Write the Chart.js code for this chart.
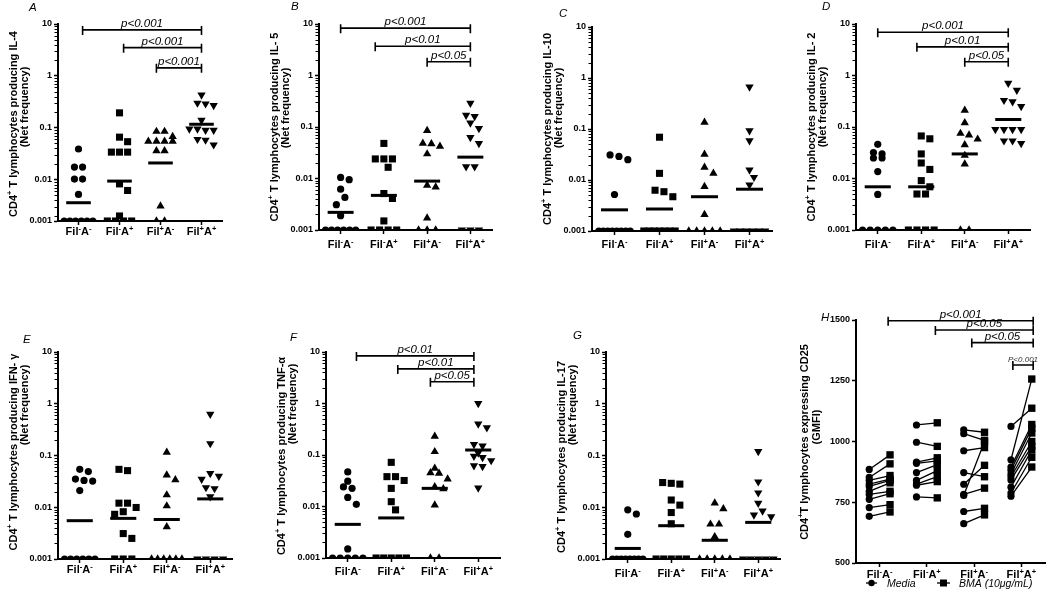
<!DOCTYPE html>
<html>
<head>
<meta charset="utf-8">
<script src="https://cdn.jsdelivr.net/npm/chart.js@4.4.1/dist/chart.umd.min.js"></script>
<style>
  body { margin: 0; background: #fff; }
  #wrap { position: relative; width: 1050px; height: 598px; overflow: hidden; background: #fff; }
  #wrap canvas { position: absolute; left: 0; top: 0; }
</style>
</head>
<body>
<div id="wrap"></div>
<script>
// x groups, left to right: Fil-A-, Fil-A+, Fil+A-, Fil+A+
const groupSigns = [['-', '-'], ['-', '+'], ['+', '-'], ['+', '+']];
const logTicks = [0.001, 0.01, 0.1, 1, 10];
const gmfiTicks = [500, 750, 1000, 1250, 1500];

// net frequencies per group (0.001 = at the detection floor)
const il4 = [
  [0.039, 0.0175, 0.0175, 0.0103, 0.0103, 0.0052, 0.001, 0.001, 0.001, 0.001, 0.001, 0.001],
  [0.194, 0.066, 0.054, 0.034, 0.034, 0.034, 0.0083, 0.0062, 0.002, 0.001, 0.001, 0.001, 0.001],
  [0.085, 0.085, 0.068, 0.055, 0.055, 0.055, 0.055, 0.036, 0.036, 0.0031, 0.001, 0.001],
  [0.43, 0.30, 0.29, 0.27, 0.14, 0.095, 0.095, 0.09, 0.09, 0.06, 0.058, 0.047]
];
const il4Mean = [0.0036, 0.0094, 0.021, 0.117];

const il5 = [
  [0.0105, 0.0095, 0.0062, 0.0043, 0.0031, 0.0019, 0.001, 0.001, 0.001, 0.001, 0.001, 0.001],
  [0.048, 0.024, 0.024, 0.024, 0.0165, 0.0051, 0.0041, 0.0015, 0.001, 0.001, 0.001, 0.001],
  [0.085, 0.048, 0.047, 0.042, 0.030, 0.0074, 0.0068, 0.0017, 0.001, 0.001, 0.001],
  [0.29, 0.17, 0.16, 0.12, 0.094, 0.063, 0.048, 0.017, 0.017, 0.001, 0.001, 0.001]
];
const il5Mean = [0.0022, 0.0047, 0.0089, 0.026];

const il10 = [
  [0.031, 0.029, 0.025, 0.0052, 0.001, 0.001, 0.001, 0.001, 0.001, 0.001, 0.001, 0.001],
  [0.069, 0.0135, 0.0063, 0.0059, 0.0047, 0.001, 0.001, 0.001, 0.001, 0.001, 0.001, 0.001],
  [0.135, 0.032, 0.0177, 0.0135, 0.0074, 0.0021, 0.001, 0.001, 0.001, 0.001, 0.001],
  [0.67, 0.093, 0.059, 0.0158, 0.0113, 0.008, 0.001, 0.001, 0.001, 0.001, 0.001, 0.001]
];
const il10Mean = [0.0026, 0.0027, 0.0047, 0.0066];

const il2 = [
  [0.046, 0.032, 0.030, 0.025, 0.025, 0.0136, 0.0049, 0.001, 0.001, 0.001, 0.001, 0.001],
  [0.067, 0.059, 0.030, 0.020, 0.015, 0.0091, 0.0069, 0.005, 0.005, 0.001, 0.001, 0.001, 0.001],
  [0.21, 0.12, 0.075, 0.07, 0.058, 0.045, 0.028, 0.019, 0.001, 0.001],
  [0.71, 0.52, 0.33, 0.31, 0.25, 0.09, 0.09, 0.09, 0.09, 0.054, 0.054, 0.048]
];
const il2Mean = [0.0069, 0.0069, 0.030, 0.14];

const ifng = [
  [0.054, 0.049, 0.035, 0.033, 0.032, 0.021, 0.001, 0.001, 0.001, 0.001, 0.001, 0.001],
  [0.054, 0.051, 0.012, 0.012, 0.0099, 0.0082, 0.0073, 0.0031, 0.0025, 0.001, 0.001, 0.001],
  [0.115, 0.042, 0.034, 0.0173, 0.0106, 0.0042, 0.001, 0.001, 0.001, 0.001, 0.001, 0.001],
  [0.63, 0.17, 0.045, 0.040, 0.035, 0.024, 0.023, 0.016, 0.001, 0.001, 0.001, 0.001]
];
const ifngMean = [0.0055, 0.0061, 0.0058, 0.0145];

const tnfa = [
  [0.047, 0.031, 0.024, 0.0225, 0.015, 0.011, 0.0015, 0.001, 0.001, 0.001, 0.001, 0.001],
  [0.072, 0.038, 0.038, 0.032, 0.0225, 0.0124, 0.0086, 0.001, 0.001, 0.001, 0.001, 0.001],
  [0.23, 0.116, 0.055, 0.045, 0.044, 0.034, 0.024, 0.022, 0.0107, 0.001, 0.001],
  [1.0, 0.40, 0.34, 0.16, 0.15, 0.11, 0.095, 0.09, 0.078, 0.062, 0.060, 0.023]
];
const tnfaMean = [0.0045, 0.006, 0.0225, 0.125];

const il17 = [
  [0.0089, 0.0074, 0.003, 0.001, 0.001, 0.001, 0.001, 0.001, 0.001, 0.001, 0.001],
  [0.030, 0.029, 0.028, 0.0138, 0.011, 0.0079, 0.0048, 0.001, 0.001, 0.001, 0.001, 0.001],
  [0.012, 0.0093, 0.0047, 0.0047, 0.0027, 0.001, 0.001, 0.001, 0.001, 0.001],
  [0.12, 0.031, 0.019, 0.012, 0.0085, 0.0071, 0.0066, 0.001, 0.001, 0.001, 0.001, 0.001]
];
const il17Mean = [0.0016, 0.0044, 0.0023, 0.0051];

// H: CD25 GMFI, media vs BMA, paired by position
const cd25Media = [
  [885, 852, 840, 825, 815, 795, 782, 762, 728, 692],
  [1068, 997, 915, 910, 872, 840, 825, 820, 772],
  [1048, 1032, 962, 872, 824, 782, 778, 712, 662],
  [1062, 925, 895, 882, 866, 855, 842, 812, 788, 775]
];
const cd25Bma = [
  [945, 908, 860, 845, 840, 830, 795, 785, 740, 710],
  [1077, 980, 933, 920, 905, 880, 855, 835, 768],
  [1038, 1005, 975, 855, 902, 808, 1000, 725, 698],
  [1137, 1257, 1070, 1055, 1035, 1000, 980, 965, 935, 895]
];

// significance brackets: [from group, to group, height, label]
const il4Sig = [[0.1, 3, 7.7, 'p<0.001'], [1.1, 3, 3.5, 'p<0.001'], [1.9, 3, 1.43, 'p<0.001']];
const il5Sig = [[0, 3, 8.3, 'p<0.001'], [0.8, 3, 3.7, 'p<0.01'], [2, 3, 1.85, 'p<0.05']];
const il2Sig = [[0, 3, 6.9, 'p<0.001'], [0.9, 3, 3.6, 'p<0.01'], [2, 3, 1.85, 'p<0.05']];
const tnfaSig = [[0.2, 2.9, 8.4, 'p<0.01'], [1.15, 2.9, 4.7, 'p<0.01'], [1.9, 2.9, 2.65, 'p<0.05']];
const cd25Sig = [[0.18, 3.25, 1497, 'p<0.001'], [1.18, 3.25, 1459, 'p<0.05'], [1.95, 3.25, 1407, 'p<0.05'], [2.82, 3.25, 1315, 'P<0.001']];

const family = "'Liberation Sans', Arial, Helvetica, sans-serif";
const Y_W = 40, X_H = 30;
const markers = ['circle', 'rect', 'triangle', 'triangle'];
const markerR = [3.6, 5, 4.8, 4.8];

function font(size, weight, style) {
  return (style || 'normal') + ' ' + (weight || 'normal') + ' ' + size + 'px ' + family;
}

// text with raised superscript pieces, centred on x
function richText(ctx, parts, x, y, o) {
  let w = 0;
  for (const [t, sup] of parts) {
    ctx.font = font(sup ? o.sup : o.size, o.weight, o.style);
    w += ctx.measureText(t).width;
  }
  let cx = x - w / 2;
  ctx.textAlign = 'left';
  for (const [t, sup] of parts) {
    ctx.font = font(sup ? o.sup : o.size, o.weight, o.style);
    ctx.fillText(t, cx, sup ? y - o.size * 0.38 : y);
    cx += ctx.measureText(t).width;
  }
}

function vText(ctx, parts, cx, cy, o) {
  ctx.save();
  ctx.translate(cx, cy);
  ctx.rotate(-Math.PI / 2);
  ctx.textBaseline = 'middle';
  richText(ctx, parts, 0, 0, o);
  ctx.restore();
}

// beeswarm in rough pixel units: equal values sit in a centred row,
// other points take the nearest free spot beside the column centre
function swarm(vals, d, maxW) {
  const PX_DEC = 51.5, PX_SLOT = 43;
  const order = vals.map((v, i) => i).sort((a, b) => vals[b] - vals[a]);
  const off = vals.map(() => 0);
  const placed = [];
  let i = 0;
  while (i < order.length) {
    let j = i;
    while (j + 1 < order.length &&
      Math.log10(vals[order[i]]) - Math.log10(vals[order[j + 1]]) < 0.03) j++;
    const n = j - i + 1;
    const y = Math.log10(vals[order[i]]) * PX_DEC;
    if (n > 1) {
      const s = Math.min(d, maxW / (n - 1));
      for (let k = 0; k < n; k++) {
        const x = (k - (n - 1) / 2) * s;
        off[order[i + k]] = x / PX_SLOT;
        placed.push([x, y]);
      }
    } else {
      let best = 0;
      for (let t = 0; t < 14; t++) {
        const x = (t % 2 ? 1 : -1) * Math.ceil(t / 2) * d / 2;
        if (placed.every(([px, py]) => Math.hypot(px - x, py - y) >= d)) { best = x; break; }
      }
      off[order[i]] = best / PX_SLOT;
      placed.push([best, y]);
    }
    i = j + 1;
  }
  return off;
}

const panels = [
  { letter: 'A', values: il4, means: il4Mean, sig: il4Sig, box: [58, 24, 222, 221], yMin: 0.0016,
    title: [['CD4'], ['+', 1], [' T lymphocytes producing IL-4']], t1: [14, 124], t2: [25, 107], at: [29, 11], gap: 14 },
  { letter: 'B', values: il5, means: il5Mean, sig: il5Sig, box: [319, 24, 492, 230], yMin: 0.001,
    title: [['CD4'], ['+', 1], [' T lymphocytes producing IL- 5']], t1: [275, 127], t2: [286, 108], at: [291, 10], gap: 18 },
  { letter: 'C', values: il10, means: il10Mean, sig: [], box: [592, 27, 772, 231], yMin: 0.001,
    title: [['CD4'], ['+', 1], [' T lymphocytes producing IL-10']], t1: [548, 129], t2: [559, 108], at: [559, 17], gap: 17 },
  { letter: 'D', values: il2, means: il2Mean, sig: il2Sig, box: [856, 24, 1030, 230], yMin: 0.001,
    title: [['CD4'], ['+', 1], [' T lymphocytes producing IL- 2']], t1: [812, 127], t2: [823, 107], at: [822, 10], gap: 18 },
  { letter: 'E', values: ifng, means: ifngMean, sig: [], box: [58, 352, 232, 559], yMin: 0.001,
    title: [['CD4'], ['+', 1], [' T lymphocytes producing IFN- \u03b3']], t1: [14, 452], t2: [25, 405], at: [23, 343], gap: 14 },
  { letter: 'F', values: tnfa, means: tnfaMean, sig: tnfaSig, box: [326, 352, 500, 558], yMin: 0.001,
    title: [['CD4'], ['+', 1], [' T lymphocytes producing TNF-\u03b1']], t1: [282, 456], t2: [293, 404], at: [290, 341], gap: 17 },
  { letter: 'G', values: il17, means: il17Mean, sig: [], box: [606, 352, 780, 559], yMin: 0.001,
    title: [['CD4'], ['+', 1], [' T lymphocytes producing IL-17']], t1: [562, 457], t2: [573, 405], at: [573, 339], gap: 18 }
];

const panelH = { letter: 'H', sig: cd25Sig, box: [856, 320, 1045, 563],
  title: [['CD4'], ['+', 1], ['T lymphocytes expressing CD25']], sub: '(GMFI)', t1: [805, 442], t2: [817, 427], at: [821, 321], gap: 15 };

function padding(box) {
  const [l, t, r, b] = box;
  return { left: l - Y_W, top: t, right: 1050 - r, bottom: 598 - b - X_H };
}

function addCanvas() {
  const c = document.createElement('canvas');
  c.width = 1050; c.height = 598;
  document.getElementById('wrap').appendChild(c);
  return c;
}

function xAxis() {
  return {
    type: 'linear', min: -0.5, max: 3.5,
    afterBuildTicks: s => { s.ticks = groupSigns.map((g, i) => ({ value: i })); },
    ticks: { display: false },
    grid: { drawOnChartArea: false, drawTicks: true, tickLength: 4, tickWidth: 1.5, tickColor: '#000' },
    border: { display: true, color: '#000', width: 2 },
    afterFit: s => { s.height = X_H; }
  };
}

function yGrid() {
  return { drawOnChartArea: false, drawTicks: true, tickLength: 4, tickWidth: 1.5, tickColor: '#000' };
}

function decor(p, log, legend) {
  return {
    id: 'decor' + p.letter,
    afterDraw(chart) {
      const ctx = chart.ctx, xs = chart.scales.x, ys = chart.scales.y;
      ctx.save();
      ctx.fillStyle = '#000';
      ctx.strokeStyle = '#000';

      if (log) {
        ctx.lineWidth = 1;
        for (let e = -3; e < 1; e++) {
          for (let m = 2; m <= 9; m++) {
            const v = m * Math.pow(10, e);
            if (v < p.yMin) continue;
            const py = Math.round(ys.getPixelForValue(v)) + 0.5;
            ctx.beginPath();
            ctx.moveTo(xs.left - 1, py);
            ctx.lineTo(xs.left - 3.5, py);
            ctx.stroke();
          }
        }
      }

      ctx.textBaseline = 'alphabetic';
      groupSigns.forEach(([f, a], g) => {
        richText(ctx, [['Fil'], [f, 1], ['A'], [a, 1]], xs.getPixelForValue(g), ys.bottom + p.gap,
          { size: 11, sup: 7.5, weight: 'bold' });
      });

      p.sig.forEach(([a, b, v, label]) => {
        const x0 = xs.getPixelForValue(a), x1 = xs.getPixelForValue(b), py = ys.getPixelForValue(v);
        ctx.lineWidth = 1.6;
        ctx.beginPath();
        ctx.moveTo(x0, py); ctx.lineTo(x1, py);
        ctx.moveTo(x0, py - 4); ctx.lineTo(x0, py + 5);
        ctx.moveTo(x1, py - 4); ctx.lineTo(x1, py + 5);
        ctx.stroke();
        const small = label[0] === 'P';
        ctx.font = font(small ? 8 : 11.5, 'normal', 'italic');
        ctx.fillStyle = small ? '#333' : '#000';
        ctx.textAlign = 'center';
        ctx.fillText(label, (x0 + x1) / 2, py - 3);
        ctx.fillStyle = '#000';
      });

      const tf = { size: 11, sup: 7.5, weight: 'bold' };
      vText(ctx, p.title, p.t1[0], p.t1[1], tf);
      vText(ctx, [[p.sub || '(Net frequency)']], p.t2[0], p.t2[1], tf);

      ctx.font = font(11.5, 'normal', 'italic');
      ctx.textAlign = 'left';
      ctx.fillText(p.letter, p.at[0], p.at[1]);

      if (legend) {
        const ly = 583;
        ctx.lineWidth = 1.3;
        ctx.beginPath(); ctx.moveTo(866, ly); ctx.lineTo(877, ly); ctx.stroke();
        ctx.beginPath(); ctx.arc(871.5, ly, 3.2, 0, Math.PI * 2); ctx.fill();
        ctx.beginPath(); ctx.moveTo(937, ly); ctx.lineTo(950, ly); ctx.stroke();
        ctx.fillRect(940, ly - 3.5, 7, 7);
        ctx.font = font(10.5, 'normal', 'italic');
        ctx.fillText('Media', 887, ly + 4);
        ctx.fillText('BMA (10\u03bcg/mL)', 959, ly + 4);
      }
      ctx.restore();
    }
  };
}

panels.forEach(p => {
  const datasets = [];
  p.values.forEach((vals, g) => {
    const off = swarm(vals, 8.5, 30);
    datasets.push({
      type: 'scatter',
      data: vals.map((v, k) => ({ x: g + off[k], y: Math.max(v, p.yMin) })),
      pointStyle: markers[g],
      pointRotation: g === 3 ? 180 : 0,
      pointRadius: markerR[g],
      backgroundColor: '#000',
      borderColor: '#000',
      borderWidth: 0
    });
    datasets.push({
      type: 'line',
      data: [{ x: g - 0.3, y: p.means[g] }, { x: g + 0.3, y: p.means[g] }],
      borderColor: '#000',
      borderWidth: 3,
      borderCapStyle: 'butt',
      pointRadius: 0
    });
  });

  new Chart(addCanvas(), {
    type: 'scatter',
    data: { datasets },
    options: {
      responsive: false,
      animation: false,
      layout: { padding: padding(p.box) },
      plugins: { legend: { display: false }, tooltip: { enabled: false } },
      scales: {
        x: xAxis(),
        y: {
          type: 'logarithmic', min: p.yMin, max: 10,
          afterBuildTicks: s => { s.ticks = logTicks.map((v, i) => ({ value: i === 0 ? p.yMin : v })); },
          ticks: {
            callback: (v, i) => String(logTicks[i]),
            color: '#000', padding: 2,
            font: { family, size: 9, weight: 'bold' }
          },
          grid: yGrid(),
          border: { display: true, color: '#000', width: 2 },
          afterFit: s => { s.width = Y_W; }
        }
      }
    },
    plugins: [decor(p, true, false)]
  });
});

// H: paired media / BMA lines
const hData = [], hStyle = [], hRad = [];
cd25Media.forEach((media, g) => media.forEach((m, k) => {
  hData.push({ x: g - 0.22, y: m }, { x: g + 0.22, y: cd25Bma[g][k] }, { x: g, y: null });
  hStyle.push('circle', 'rect', 'circle');
  hRad.push(3.6, 5.2, 0);
}));

new Chart(addCanvas(), {
  type: 'scatter',
  data: {
    datasets: [{
      type: 'line',
      data: hData,
      borderColor: '#000',
      borderWidth: 1.3,
      spanGaps: false,
      fill: false,
      pointStyle: hStyle,
      pointRadius: hRad,
      pointBackgroundColor: '#000',
      pointBorderWidth: 0
    }]
  },
  options: {
    responsive: false,
    animation: false,
    layout: { padding: padding(panelH.box) },
    plugins: { legend: { display: false }, tooltip: { enabled: false } },
    scales: {
      x: xAxis(),
      y: {
        type: 'linear', min: 500, max: 1500,
        afterBuildTicks: s => { s.ticks = gmfiTicks.map(v => ({ value: v })); },
        ticks: { callback: v => String(v), color: '#000', padding: 2, font: { family, size: 9, weight: 'bold' } },
        grid: yGrid(),
        border: { display: true, color: '#000', width: 2 },
        afterFit: s => { s.width = Y_W; }
      }
    }
  },
  plugins: [decor(panelH, false, true)]
});
</script>
</body>
</html>
